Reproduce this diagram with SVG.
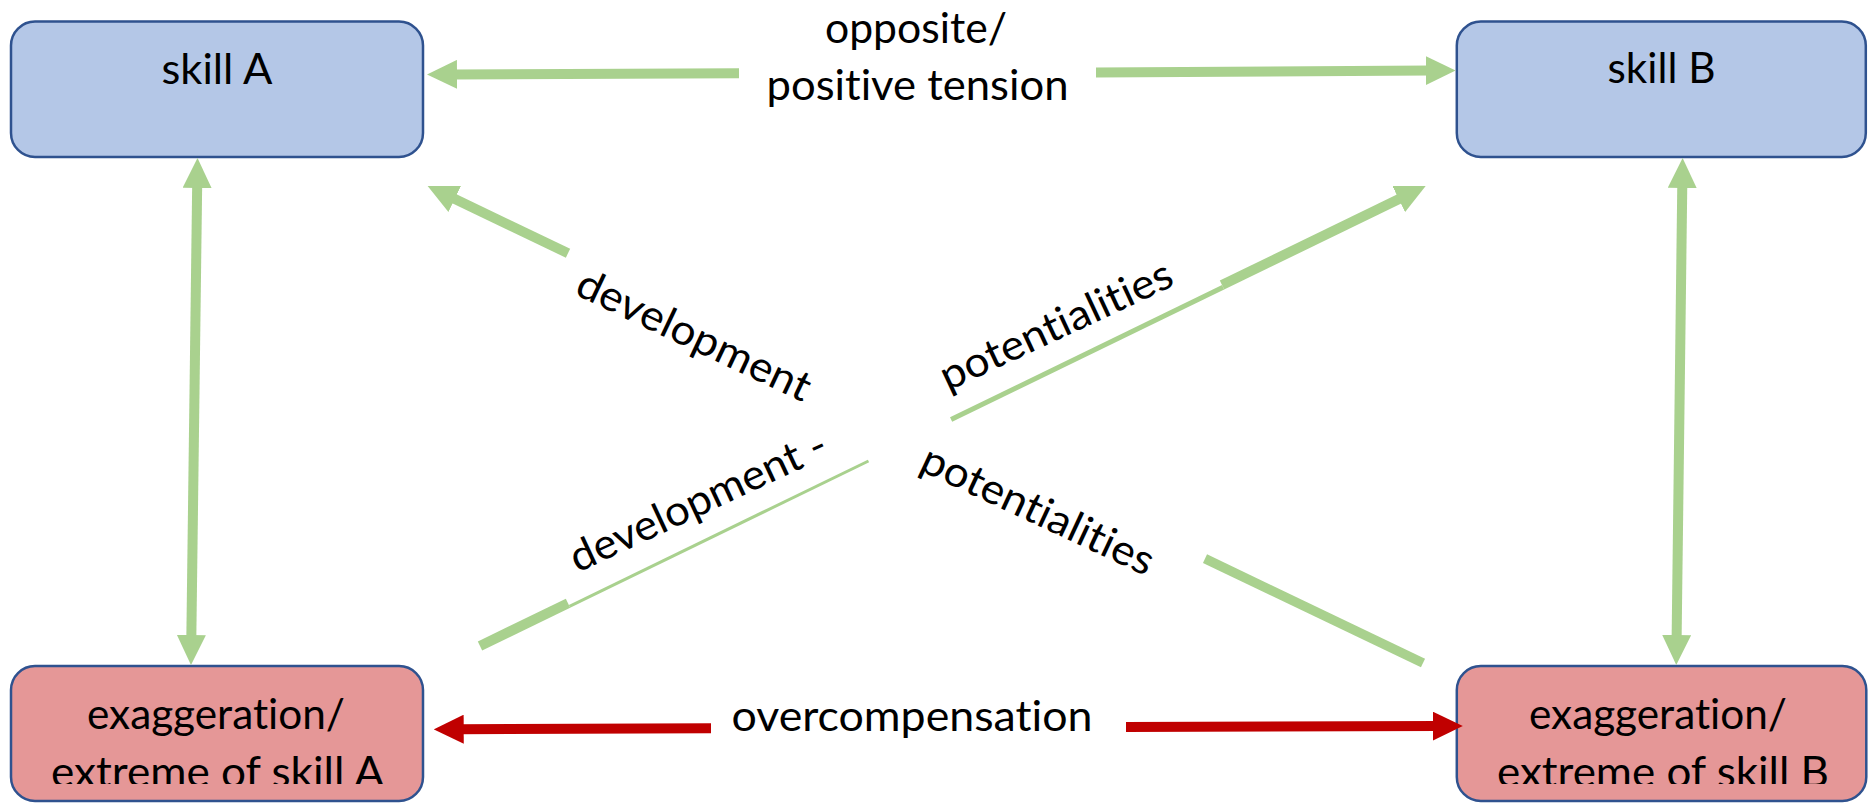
<svg xmlns="http://www.w3.org/2000/svg" width="1869" height="803" viewBox="0 0 1869 803">
  <defs>
    <style>
      .blue { fill: #B4C7E7; stroke: #2F528F; stroke-width: 2.5; }
      .red { fill: #E59797; stroke: #2F528F; stroke-width: 2.5; }
      .t { font-family: Lato, "Liberation Sans", sans-serif; font-size: 42px; fill: #000; text-anchor: middle; font-variant-ligatures: none; font-feature-settings: "liga" 0, "clig" 0; }
      .g { stroke: #A9D18E; fill: none; stroke-linecap: butt; }
      .r { stroke: #C00000; fill: none; stroke-width: 10; }
    </style>
    <marker id="ahg" markerUnits="userSpaceOnUse" markerWidth="30" markerHeight="29" viewBox="0 0 30 29" refX="5" refY="14.5" orient="auto-start-reverse">
      <path d="M0,0 L30,14.5 L0,29 z" fill="#A9D18E"/>
    </marker>
    <marker id="ahr" markerUnits="userSpaceOnUse" markerWidth="30" markerHeight="29" viewBox="0 0 30 29" refX="5" refY="14.5" orient="auto-start-reverse">
      <path d="M0,0 L30,14.5 L0,29 z" fill="#C00000"/>
    </marker>
    <clipPath id="clipA"><rect x="11" y="666" width="412" height="118"/></clipPath>
    <clipPath id="clipB"><rect x="1457" y="666" width="409" height="118"/></clipPath>
  </defs>
  <rect width="1869" height="803" fill="#FFFFFF"/>

  <g id="node-skillA">
    <rect class="blue" x="11" y="21.5" width="412" height="135.5" rx="24"/>
    <text class="t" x="217" y="84" textLength="111" lengthAdjust="spacingAndGlyphs">skill A</text>
  </g>
  <g id="node-skillB">
    <rect class="blue" x="1456.8" y="21.5" width="409" height="135.5" rx="24"/>
    <text class="t" x="1661.5" y="83" textLength="108" lengthAdjust="spacingAndGlyphs">skill B</text>
  </g>
  <g id="node-extremeA">
    <rect class="red" x="11" y="666" width="412" height="135" rx="24"/>
    <text class="t" x="216" y="729" textLength="258" lengthAdjust="spacingAndGlyphs">exaggeration/</text>
    <text class="t" x="217.5" y="787" textLength="333" lengthAdjust="spacingAndGlyphs" clip-path="url(#clipA)">extreme of skill A</text>
  </g>
  <g id="node-extremeB">
    <rect class="red" x="1456.8" y="666" width="409.5" height="135" rx="24"/>
    <text class="t" x="1658" y="729" textLength="258" lengthAdjust="spacingAndGlyphs">exaggeration/</text>
    <text class="t" x="1663" y="787" textLength="332" lengthAdjust="spacingAndGlyphs" clip-path="url(#clipB)">extreme of skill B</text>
  </g>

  <g id="connectors">
    <line class="g" stroke-width="10" x1="739" y1="73.3" x2="452" y2="74.4" marker-end="url(#ahg)"/>
    <line class="g" stroke-width="10" x1="1096" y1="72.5" x2="1430.6" y2="70.6" marker-end="url(#ahg)"/>
    <line class="r" x1="711" y1="728.3" x2="458.7" y2="729.2" marker-end="url(#ahr)"/>
    <line class="r" x1="1126" y1="727" x2="1437.8" y2="726.1" marker-end="url(#ahr)"/>
    <line class="g" stroke-width="10" x1="191.3" y1="640" x2="197.2" y2="183" marker-start="url(#ahg)" marker-end="url(#ahg)"/>
    <line class="g" stroke-width="10" x1="1676.6" y1="640" x2="1682.3" y2="183" marker-start="url(#ahg)" marker-end="url(#ahg)"/>
    <line class="g" stroke-width="10" x1="568" y1="253.2" x2="450.2" y2="196.8" marker-end="url(#ahg)"/>
    <line class="g" stroke-width="9.5" x1="1205" y1="558.6" x2="1423" y2="663"/>
    <line class="g" stroke-width="10" x1="480" y1="646" x2="568" y2="603.2"/>
    <line class="g" stroke-width="3" x1="569.5" y1="606.3" x2="868.5" y2="461"/>
    <line class="g" stroke-width="5" x1="951.1" y1="419.6" x2="1223.1" y2="287.3"/>
    <line class="g" stroke-width="10" x1="1222" y1="285.1" x2="1403.2" y2="196.9" marker-end="url(#ahg)"/>
  </g>

  <g id="labels">
    <text class="t" x="916" y="43" textLength="182" lengthAdjust="spacingAndGlyphs">opposite/</text>
    <text class="t" x="917.5" y="100" textLength="302" lengthAdjust="spacingAndGlyphs">positive tension</text>
    <text class="t" x="912" y="731" textLength="361" lengthAdjust="spacingAndGlyphs">overcompensation</text>
    <text class="t" transform="translate(688,348) rotate(25.3)" textLength="254" lengthAdjust="spacingAndGlyphs">development</text>
    <text class="t" transform="translate(1032,523) rotate(25)" textLength="252" lengthAdjust="spacingAndGlyphs">potentialities</text>
    <text class="t" transform="translate(704,514) rotate(-25)" textLength="279" lengthAdjust="spacingAndGlyphs">development -</text>
    <text class="t" transform="translate(1062,338) rotate(-25)" textLength="252" lengthAdjust="spacingAndGlyphs">potentialities</text>
  </g>
</svg>
